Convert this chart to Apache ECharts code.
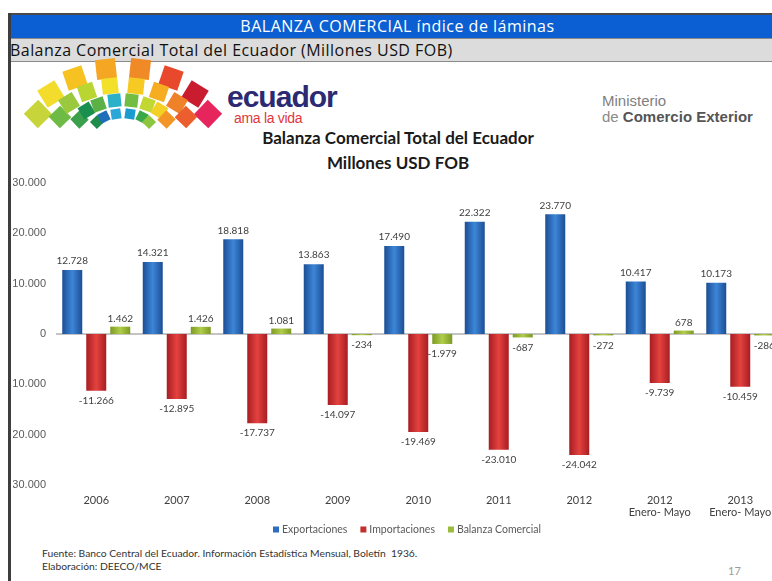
<!DOCTYPE html>
<html><head><meta charset="utf-8">
<script src="https://cdn.jsdelivr.net/npm/echarts@6/dist/echarts.min.js"></script>
<style>
html,body{margin:0;padding:0;background:#fff;width:772px;height:581px;overflow:hidden;}
body{position:relative;font-family:'Open Sans',sans-serif;}
.abs{position:absolute;white-space:nowrap;}
#chart{position:absolute;left:13px;top:62px;width:759px;height:519px;}
</style></head><body>
<div class="abs" style="left:9px;top:13px;width:763px;height:2px;background:#4a4a4a;"></div>
<div class="abs" style="left:11px;top:15px;width:761px;height:23px;background:#0b5fd2;color:#fff;font-size:16px;letter-spacing:0.5px;line-height:23px;text-align:center;padding-left:12px;box-sizing:border-box;">BALANZA COMERCIAL índice de láminas</div>
<div class="abs" style="left:11px;top:38px;width:761px;height:22px;background:#dcdcdc;border-top:1px solid #8a8a8a;border-bottom:1px solid #8a8a8a;color:#111;font-size:16px;letter-spacing:0.45px;line-height:22px;"><span style="position:relative;left:-1px;">Balanza Comercial Total del Ecuador (Millones USD FOB)</span></div>
<div class="abs" style="left:8px;top:13px;width:3px;height:568px;background:#3e3e3e;z-index:5;"></div>
<div id="logo" class="abs" style="left:0;top:0;width:1px;height:1px;"></div>
<div class="abs" style="left:227px;top:80px;font-family:'Liberation Sans',Arial,sans-serif;font-weight:bold;font-size:30px;letter-spacing:-1px;color:#2b2a72;">ecuador</div>
<div class="abs" style="left:234px;top:110px;font-family:'Liberation Sans',Arial,sans-serif;font-size:14px;letter-spacing:-0.3px;color:#e0373d;">ama la vida</div>
<div class="abs" style="left:602px;top:92px;font-family:'Liberation Sans',Arial,sans-serif;font-size:15px;color:#7f7f7f;">Ministerio</div>
<div class="abs" style="left:602px;top:108px;font-family:'Liberation Sans',Arial,sans-serif;font-size:15px;color:#8a8a8a;">de <b style="color:#555;">Comercio Exterior</b></div>
<div class="abs" style="left:0;width:796px;top:125px;text-align:center;font-family:Lato,sans-serif;font-weight:bold;font-size:17px;line-height:25px;color:#1a1a1a;">Balanza Comercial Total del Ecuador<br>Millones USD FOB</div>
<div class="abs" style="left:42px;top:547px;font-family:Lato,sans-serif;font-size:10.3px;color:#333;">Fuente: Banco Central del Ecuador. Información Estadística Mensual, Boletín&nbsp; 1936.</div>
<div class="abs" style="left:42px;top:560px;font-family:Lato,sans-serif;font-size:10.3px;color:#333;">Elaboración: DEECO/MCE</div>
<div class="abs" style="left:728px;top:564px;font-family:Lato,sans-serif;font-size:11px;color:#9a9a9a;">17</div>
<div id="chart"></div>
<script>
// ---- data ----
const categories = ['2006', '2007', '2008', '2009', '2010', '2011', '2012', '2012\nEnero- Mayo', '2013\nEnero- Mayo'];
const exportaciones = [12728, 14321, 18818, 13863, 17490, 22322, 23770, 10417, 10173];
const importaciones = [-11266, -12895, -17737, -14097, -19469, -23010, -24042, -9739, -10459];
const balanzaComercial = [1462, 1426, 1081, -234, -1979, -687, -272, 678, -286];
const seriesNames = ['Exportaciones', 'Importaciones', 'Balanza Comercial'];
const yMin = -30000, yMax = 30000, yInterval = 10000;

// ---- decorative logo ----
(function(){
  const logo = document.getElementById('logo');
  const rings = [
    {rx:86, ry:56, s:20, cols:['#c8d53a','#f4dc2c','#f6c221','#f5a623','#f08a27','#e8482b','#c91d2f','#e5255b']},
    {rx:64, ry:39, s:16, cols:['#6dbb45','#9bc93d','#b9d532','#f2e02a','#f7c923','#f6ad22','#ef8229','#ec5e2d']},
    {rx:44, ry:24, s:13, cols:['#3aa04c','#1b8f4f','#5bb146','#2bb0c9','#74bd43','#c3d733','#f4cf24','#f39526']},
    {rx:26, ry:10, s:10, cols:['#1f8c4c','#1e6fb8','#2aa6d9','#1b9bd0','#38a84a','#8cc63f']}
  ];
  const cx = 123, cy = 124;
  rings.forEach(r => {
    const n = r.cols.length;
    r.cols.forEach((c, i) => {
      const t = (170 - i * (160 / (n - 1))) * Math.PI / 180;
      const x = cx + r.rx * Math.cos(t), y = cy - r.ry * Math.sin(t);
      const rot = (90 - t * 180 / Math.PI) * 0.55;
      const d = document.createElement('div');
      d.style.cssText = 'position:absolute;left:' + (x - r.s/2) + 'px;top:' + (y - r.s/2) + 'px;width:' + r.s + 'px;height:' + r.s + 'px;background:' + c + ';transform:rotate(' + rot + 'deg);';
      logo.appendChild(d);
    });
  });
})();

// ---- chart ----
function fmt(v){
  return (v < 0 ? '-' : '') + String(Math.abs(v)).replace(/\B(?=(\d{3})+(?!\d))/g, '.');
}
function grad(edge, mid){
  return new echarts.graphic.LinearGradient(0, 0, 1, 0, [
    {offset:0, color:edge}, {offset:0.5, color:mid}, {offset:1, color:edge}
  ]);
}
const labelFont = {fontFamily:'Lato, sans-serif', fontSize:10, color:'#404040'};
const chart = echarts.init(document.getElementById('chart'), null, {renderer:'canvas'});
chart.setOption({
  animation:false,
  backgroundColor:'transparent',
  grid:{left:43, top:121, width:724.5, height:302, containLabel:false, outerBoundsMode:'none'},
  legend:{
    left:255, top:457, itemWidth:6, itemHeight:6, itemGap:13,
    textStyle:{fontFamily:'Lato, sans-serif', fontSize:10.5, color:'#595959', padding:[0,0,0,-2]},
    data:[
      {name:seriesNames[0], icon:'rect', itemStyle:{color:'#2e6cc0'}},
      {name:seriesNames[1], icon:'rect', itemStyle:{color:'#c0302f'}},
      {name:seriesNames[2], icon:'rect', itemStyle:{color:'#9bbb3a'}}
    ]
  },
  xAxis:{
    type:'category', data:categories,
    axisLine:{show:false}, axisTick:{show:false},
    axisLabel:{margin:9, fontFamily:'Lato, sans-serif', fontSize:11, lineHeight:12, color:'#404040', interval:0}
  },
  yAxis:{
    type:'value', min:yMin, max:yMax, interval:yInterval,
    splitLine:{show:false}, axisLine:{show:false}, axisTick:{show:false},
    axisLabel:{margin:10, fontFamily:'Liberation Sans, Arial, sans-serif', fontSize:11, color:'#595959', formatter:fmt}
  },
  series:[
    {
      name:seriesNames[0], type:'bar', data:exportaciones, barWidth:20, barGap:'20%',
      itemStyle:{color:grad('#1c4e94','#3d86d8')},
      label:Object.assign({show:true, position:'top', distance:4, formatter:p=>fmt(p.value)}, labelFont),
      markLine:{silent:true, symbol:'none', label:{show:false}, z:1,
        lineStyle:{color:'#c4c4c4', width:2, type:'solid'}, data:[{yAxis:0}]}
    },
    {
      name:seriesNames[1], type:'bar', data:importaciones, barWidth:20, barGap:'20%',
      itemStyle:{color:grad('#a81d22','#e4423f')},
      label:Object.assign({show:true, position:'bottom', distance:5, formatter:p=>fmt(p.value)}, labelFont)
    },
    {
      name:seriesNames[2], type:'bar', barWidth:20, barGap:'20%',
      data:balanzaComercial.map(v => ({value:v, label:{position: v >= 0 ? 'top' : 'bottom', distance: v >= 0 ? 3 : 5}})),
      itemStyle:{color:grad('#7c9a24','#b2cd4a')},
      label:Object.assign({show:true, formatter:p=>fmt(p.value)}, labelFont)
    }
  ]
});
</script>
</body></html>
